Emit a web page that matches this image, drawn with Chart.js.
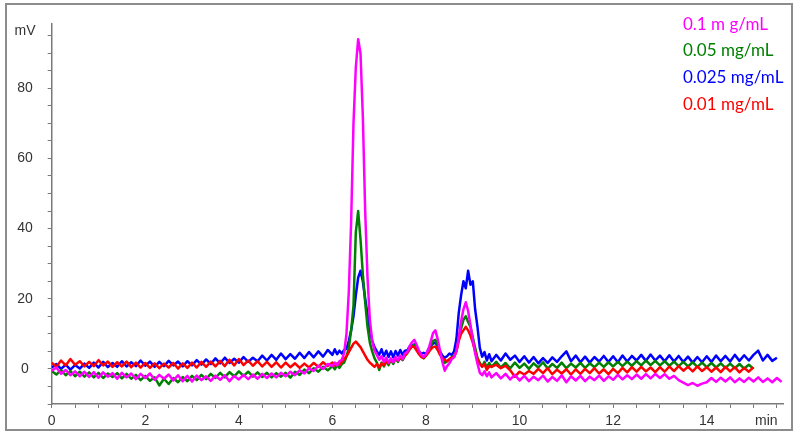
<!DOCTYPE html>
<html>
<head>
<meta charset="utf-8">
<title>Chromatogram</title>
<script src="https://cdn.jsdelivr.net/npm/chart.js@4.4.0/dist/chart.umd.min.js"></script>
<style>
  html, body { margin: 0; padding: 0; background: #fff; }
  #wrap { width: 800px; height: 436px; }
</style>
</head>
<body>
<div id="wrap"><canvas id="chrom" width="800" height="436"></canvas></div>
<script>
// retention time (min) - 0.1 steps, 0.05 steps around the peaks, then 0.1 again
const timeMin = [
  0,0.1,0.2,0.3,0.4,0.5,0.6,0.7,0.8,0.9,
  1,1.1,1.2,1.3,1.4,1.5,1.6,1.7,1.8,1.9,
  2,2.1,2.2,2.3,2.4,2.5,2.6,2.7,2.8,2.9,
  3,3.1,3.2,3.3,3.4,3.5,3.6,3.7,3.8,3.9,
  4,4.1,4.2,4.3,4.4,4.5,4.6,4.7,4.8,4.9,
  5,5.1,5.2,5.3,5.4,5.5,5.6,5.7,5.8,5.9,
  6,6.05,6.1,6.15,6.2,6.25,6.3,6.35,6.4,6.45,6.5,6.55,6.6,6.65,6.7,6.75,6.8,6.85,6.9,6.95,
  7,7.05,7.1,7.15,7.2,7.25,7.3,7.35,7.4,7.45,7.5,7.55,7.6,7.65,7.7,7.75,7.8,7.85,7.9,7.95,
  8,8.05,8.1,8.15,8.2,8.25,8.3,8.35,8.4,8.45,8.5,8.55,8.6,8.65,8.7,8.75,8.8,8.85,8.9,8.95,
  9,9.05,9.1,9.15,9.2,9.25,9.3,9.35,
  9.4,9.5,9.6,9.7,9.8,9.9,
  10,10.1,10.2,10.3,10.4,10.5,10.6,10.7,10.8,10.9,
  11,11.1,11.2,11.3,11.4,11.5,11.6,11.7,11.8,11.9,
  12,12.1,12.2,12.3,12.4,12.5,12.6,12.7,12.8,12.9,
  13,13.1,13.2,13.3,13.4,13.5,13.6,13.7,13.8,13.9,
  14,14.1,14.2,14.3,14.4,14.5,14.6,14.7,14.8,14.9,
  15,15.1,15.2,15.3,15.4,15.5,15.6
];

// 0.1 m g/mL
const magenta = [
  -0.5,0.4,-1.4,-0.3,-1.8,-0.7,-2.1,-0.8,-2.3,-0.9,
  -2.5,-1.0,-2.2,-1.2,-2.8,-1.1,-2.4,-1.3,-2.9,-1.4,
  -2.6,-1.3,-3.1,-1.7,-2.8,-1.6,-3.3,-1.8,-3.5,-2.0,
  -3.6,-1.9,-3.2,-2.1,-3.4,-1.9,-3.1,-1.8,-3.5,-2.0,
  -3.0,-1.7,-2.9,-1.6,-2.8,-1.4,-2.6,-1.3,-2.4,-1.1,
  -2.1,-0.8,-1.8,-0.4,-1.3,0.2,-0.6,0.9,0.0,1.4,
  0.8,1.8,1.0,2.2,2.6,4.5,10,22,42,70,86,94,90,72,45,26,14,8,5.2,4.0,
  2.6,3.6,2.0,3.2,1.8,3.0,1.9,3.4,2.4,3.8,2.8,4.4,4.8,6.5,7.6,8.3,6.8,5.2,4.0,3.4,
  4.2,5.5,7.8,10.2,11,8.5,5.2,2.0,-0.5,0.8,1.6,2.8,3.4,5.0,9.0,13.5,17,19,16.5,12.5,
  8.3,4.5,1.5,-1.1,-1.8,-0.7,-2.1,-1.0,
  -2.4,-1.2,-2.7,-1.4,-3.0,-1.7,
  -3.3,-2.0,-3.5,-2.2,-3.2,-1.9,-3.6,-2.3,-3.4,-1.8,
  -3.8,-2.1,-3.3,-2.0,-3.5,-2.2,-3.2,-1.9,-3.4,-2.1,
  -3.1,-1.7,-3.0,-1.8,-2.9,-1.6,-2.8,-1.5,-2.7,-1.4,
  -2.6,-1.5,-2.8,-2.0,-3.2,-3.9,-4.6,-4.0,-4.8,-4.2,
  -3.8,-2.6,-3.7,-2.5,-3.6,-2.4,-3.8,-2.7,-3.7,-2.5,
  -3.6,-2.4,-3.7,-2.7,-3.8,-2.6,-3.7
];

// 0.05 mg/mL
const green = [
  -0.6,-1.6,-0.3,-1.8,-0.6,-2.1,-0.8,-2.2,-1.0,-2.4,
  -1.1,-2.6,-1.3,-2.3,-1.2,-2.7,-1.4,-2.8,-1.7,-3.2,
  -2.0,-3.4,-2.4,-4.7,-2.8,-4.3,-2.6,-3.8,-2.3,-3.5,
  -2.0,-3.2,-1.7,-2.9,-1.4,-2.6,-1.1,-2.4,-0.9,-2.1,
  -0.7,-2.0,-0.8,-2.2,-1.0,-2.3,-1.1,-2.4,-1.2,-2.2,
  -1.1,-2.5,-0.8,-1.7,-0.2,-1.2,0.2,-0.8,0.6,-0.4,
  0.8,-0.1,1.1,0.3,1.4,1.8,3.5,6,11,18,39,45,37,27,19,12,7.5,5,3,1.8,
  -0.3,1.8,0.7,2.2,1.1,2.6,1.4,3.0,2.0,3.3,2.5,3.8,4.5,5.6,6.4,6.9,5.8,4.6,3.6,3.0,
  3.8,4.8,6.5,8.0,8.3,6.8,4.6,2.8,1.7,2.2,2.6,3.4,3.6,5.2,8.5,11.5,14,15,13.4,12,
  9.0,6.0,3.2,1.7,0.7,2.0,0.4,1.7,
  0.6,2.0,0.4,1.7,0.2,1.8,
  0.3,1.5,0.0,1.6,0.4,1.9,0.1,1.4,0.3,1.8,
  0.2,1.5,0.4,1.7,0.3,1.6,0.5,1.8,0.6,1.9,
  0.7,2.0,0.8,2.1,0.9,2.2,1.0,2.4,1.1,2.3,
  1.0,2.2,0.9,2.1,0.8,2.0,0.7,1.9,0.6,1.8,
  0.5,1.7,0.4,1.6,0.3,1.5,0.2,1.4,0.1,1.2,
  0.0
];

// 0.025 mg/mL
const blue = [
  0.4,1.4,0.0,1.2,-0.2,1.1,0.1,1.5,0.3,1.8,
  0.4,2.0,0.5,1.7,0.6,2.2,0.7,1.9,0.8,2.4,
  0.9,2.1,0.6,2.0,0.8,2.3,1.0,2.1,0.7,2.2,
  1.0,2.5,1.2,2.7,1.4,3.0,1.6,3.2,1.7,2.9,
  1.8,3.4,2.0,3.2,2.2,3.8,2.4,4.0,2.6,4.4,
  2.8,4.2,2.9,4.6,3.1,4.8,3.3,5.0,3.5,5.4,
  4.0,5.6,4.2,5.2,4.4,5.4,5.8,8,11,15,21,26,28,25,20,15.5,11,8,6.2,5.0,
  4.0,5.6,3.6,5.2,3.4,5.0,3.3,5.1,3.8,5.4,4.0,5.2,5.3,6.4,6.6,7.0,5.8,5.0,4.3,4.6,
  4.2,5.6,6.5,7.2,7.5,6.5,5.0,3.8,3.2,3.6,4.4,4.0,5.0,8.5,16,21,25,23,28,24,
  25,17,12,6.0,3.5,4.8,2.4,4.2,
  2.2,4.0,2.4,4.4,2.6,3.8,
  2.0,3.6,1.8,3.4,1.6,3.1,1.7,3.3,2.0,3.6,
  5.0,2.2,3.8,1.9,3.5,1.8,3.4,2.1,3.7,2.0,
  3.6,1.9,3.8,2.1,3.7,2.4,4.0,2.3,4.1,2.4,
  3.8,2.2,3.9,2.1,3.7,2.0,3.5,1.8,3.4,1.9,
  3.6,2.0,3.8,2.2,3.7,2.1,4.0,2.3,3.9,2.4,
  4.0,5.2,2.4,4.0,2.3,3.2
];

// 0.01 mg/mL
const red = [
  1.8,0.6,2.4,1.0,2.8,1.2,2.2,0.7,2.0,0.8,
  2.5,1.0,2.1,0.6,1.9,0.7,2.1,0.5,1.8,0.4,
  1.7,0.3,1.6,0.2,1.5,0.4,1.7,0.1,1.6,0.3,
  1.8,0.4,2.0,0.6,2.1,0.7,2.3,0.8,2.6,1.0,
  2.8,1.1,2.4,0.9,2.2,0.7,2.0,0.6,1.9,0.4,
  1.8,0.5,1.6,0.3,1.5,0.4,1.7,0.6,1.9,0.8,
  1.8,1.0,1.6,1.2,2.0,2.8,3.6,4.8,6.0,7.2,7.8,7.0,6.2,5.0,3.8,2.6,1.8,1.2,0.6,1.4,
  0.4,1.6,1.0,2.2,1.6,2.6,2.0,3.0,2.4,3.2,2.8,3.8,4.6,5.6,6.4,6.2,5.2,4.2,3.4,3.2,
  3.8,4.6,5.6,6.2,6.4,5.4,4.0,3.0,2.6,2.2,2.8,3.2,3.4,5.0,8.0,10,11,12,11,9.5,
  7.5,5.0,2.8,1.4,0.6,1.4,-0.3,0.8,
  0.6,1.2,0.2,0.9,-0.4,-2.2,
  -0.8,-1.6,-0.6,-1.4,0.0,-1.2,0.2,-1.5,-0.2,-1.3,
  -0.1,-1.6,-0.1,-1.4,0.0,-1.2,0.2,-1.3,-0.1,-1.5,
  0.0,-1.2,0.3,-1.0,0.5,-0.8,0.6,-0.7,0.4,-0.9,
  0.5,-0.8,0.7,-0.6,0.8,-0.5,0.6,-0.7,0.7,-0.6,
  0.5,-0.8,0.4,-0.9,0.6,-0.7,0.5,-1.0,0.3,-0.8,
  0.5
];

const seriesNames = ['0.1 m g/mL', '0.05 mg/mL', '0.025 mg/mL', '0.01 mg/mL'];
const seriesColors = ['#ff00ff', '#008000', '#0000ff', '#ff0000'];
const xLabels = [0, 2, 4, 6, 8, 10, 12, 14];
const yLabels = [0, 20, 40, 60, 80];

// minor ticks every 0.5 min and every 5 mV
const xMinor = [];
for (let i = 0; i <= 31; i++) xMinor.push(i / 2);
const yMinor = [];
for (let i = -2; i <= 19; i++) yMinor.push(i * 5);

function pts(vals) {
  return vals.map((v, i) => ({ x: timeMin[i], y: v }));
}

function line(vals, color) {
  return {
    data: pts(vals),
    borderColor: color,
    borderWidth: 2.5,
    borderJoinStyle: 'round',
    pointRadius: 0,
    tension: 0,
    fill: false
  };
}

const tickFont = { family: '"Liberation Sans", Arial, sans-serif', size: 14 };
const axisGray = '#7a7a7a';

// frame, axis titles and the coloured legend text
const decor = {
  id: 'decor',
  afterDraw(chart) {
    const c = chart.ctx;
    c.save();
    c.strokeStyle = '#8c8c8c';
    c.lineWidth = 2;
    c.strokeRect(6, 4, 786, 426);
    c.font = '14px "Liberation Sans", Arial, sans-serif';
    c.fillStyle = '#333';
    c.textBaseline = 'alphabetic';
    c.textAlign = 'center';
    c.fillText('mV', 25, 35);
    c.textAlign = 'left';
    c.fillText('min', 755, 425);
    c.font = '17px Lato, "Noto Sans", sans-serif';
    seriesNames.forEach((n, i) => {
      c.fillStyle = seriesColors[i];
      c.fillText(n, 683, 29.5 + i * 26.8);
    });
    c.restore();
  }
};

new Chart(document.getElementById('chrom'), {
  type: 'line',
  data: {
    // first one is drawn on top
    datasets: [
      line(magenta, seriesColors[0]),
      line(red, seriesColors[3]),
      line(green, seriesColors[1]),
      line(blue, seriesColors[2])
    ]
  },
  options: {
    responsive: false,
    animation: false,
    layout: { padding: { left: 0, right: 17, top: 23, bottom: 0 } },
    plugins: { legend: { display: false }, tooltip: { enabled: false } },
    scales: {
      x: {
        type: 'linear',
        min: 0,
        max: 15.63,
        afterFit: s => { s.height = 32; },
        afterBuildTicks: s => { s.ticks = xMinor.map(v => ({ value: v })); },
        ticks: {
          autoSkip: false,
          maxRotation: 0,
          padding: 5,
          color: '#333',
          font: tickFont,
          callback: v => xLabels.includes(v) ? String(v) : ''
        },
        grid: { drawOnChartArea: false, drawTicks: true, tickLength: 4, color: axisGray },
        border: { display: true, color: axisGray, width: 1.5 }
      },
      y: {
        min: -10,
        max: 98.5,
        afterFit: s => { s.width = 51.7; },
        afterBuildTicks: s => { s.ticks = yMinor.map(v => ({ value: v })); },
        ticks: {
          autoSkip: false,
          crossAlign: 'center',
          padding: 15,
          color: '#333',
          font: tickFont,
          callback: v => yLabels.includes(v) ? String(v) : ''
        },
        grid: { drawOnChartArea: false, drawTicks: true, tickLength: 4, color: axisGray },
        border: { display: true, color: axisGray, width: 1.5 }
      }
    }
  },
  plugins: [decor]
});
</script>
</body>
</html>
